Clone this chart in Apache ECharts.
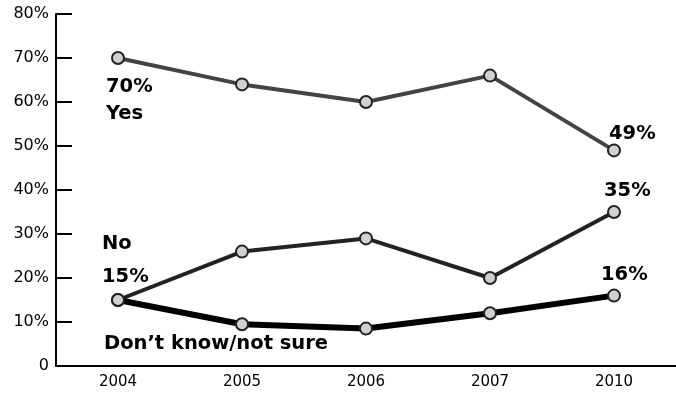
<!DOCTYPE html>
<html><head><meta charset="utf-8">
<script src="https://cdn.jsdelivr.net/npm/echarts@6/dist/echarts.min.js"></script>
<style>html,body{margin:0;padding:0;background:#fff}#c{width:676px;height:393px}</style>
</head><body><div id="c"></div>
<script>
const years = ['2004','2005','2006','2007','2010'];
const yesVals = [70, 64, 60, 66, 49];
const noVals = [15, 26, 29, 20, 35];
const dkVals = [15, 9.5, 8.5, 12, 16];
const yTicks = [0,10,20,30,40,50,60,70,80];

const chart = echarts.init(document.getElementById('c'));
const marker = {color:'#d0d0d0', borderColor:'#222', borderWidth:2};
const F = '"DejaVu Sans", sans-serif';
const BF = 'bold 19.5px "DejaVu Sans", sans-serif';
function lab(text, x, y){
  return {type:'text', x:x, y:y, style:{text:text, font:BF, fill:'#000', verticalAlign:'middle', textVerticalAlign:'middle'}};
}
chart.setOption({
  animation:false,
  grid:{left:56, right:0, top:14, bottom:27},
  xAxis:{type:'category', data:years, boundaryGap:true,
    axisLine:{lineStyle:{color:'#000', width:2}},
    axisTick:{inside:true, length:6, lineStyle:{color:'#000', width:1.5}},
    axisLabel:{color:'#000', fontSize:15, fontFamily:F, margin:9}},
  yAxis:{type:'value', min:0, max:80, interval:10,
    axisLine:{show:true, lineStyle:{color:'#000', width:2}},
    axisTick:{show:true, inside:true, length:16, lineStyle:{color:'#000', width:2}},
    splitLine:{show:false},
    axisLabel:{color:'#000', fontSize:16, fontFamily:F, margin:7,
      formatter:v=> v===0 ? '0' : v+'%'}},
  series:[
    {name:'Yes', type:'line', data:yesVals, symbol:'circle', symbolSize:12,
      lineStyle:{color:'#444', width:4}, itemStyle:marker},
    {name:'No', type:'line', data:noVals, symbol:'circle', symbolSize:12,
      lineStyle:{color:'#222', width:4}, itemStyle:marker},
    {name:'DK', type:'line', data:dkVals, symbol:'circle', symbolSize:12,
      lineStyle:{color:'#000', width:6}, itemStyle:marker}
  ],
  graphic:[
    lab('70%', 106, 87),
    lab('Yes', 106, 114),
    lab('49%', 609, 134),
    lab('35%', 604, 191),
    lab('16%', 601, 275),
    lab('No', 102, 244),
    lab('15%', 102, 277),
    lab('Don\u2019t know/not sure', 104, 344)
  ]
});
</script></body></html>
